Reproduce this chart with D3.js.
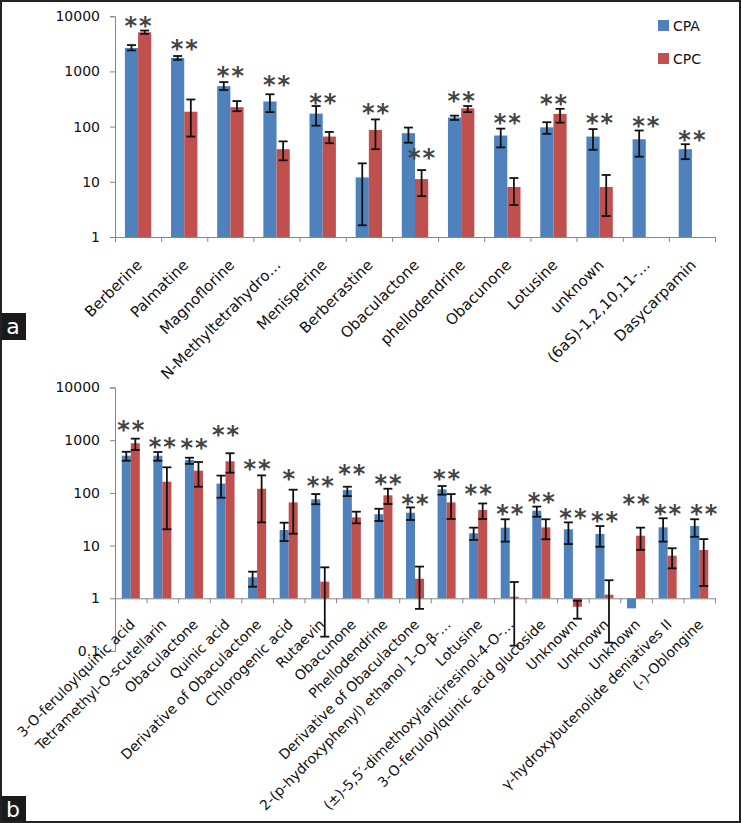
<!DOCTYPE html>
<html>
<head>
<meta charset="utf-8">
<script src="https://cdn.jsdelivr.net/npm/d3@7"></script>
<style>
  body { margin: 0; background: #fff; }
  svg { display: block; }
  text { font-family: "DejaVu Sans", sans-serif; }
</style>
</head>
<body>
<div id="chart"></div>
<script>
// ---- panel a data ----
var catsA = ["Berberine", "Palmatine", "Magnoflorine", "N-Methyltetrahydro…", "Menisperine",
  "Berberastine", "Obaculactone", "phellodendrine", "Obacunone", "Lotusine", "unknown",
  "(6aS)-1,2,10,11-…", "Dasycarpamin"];
var cpaA = [2650, 1750, 540, 285, 172, 12, 76, 146, 69, 97, 66, 59, 39];
var cpaErrA = [[2400, 3000], [1620, 1900], [460, 640], [183, 385], [104, 236], [1.63, 21.6],
  [51, 96], [132, 158], [42, 92], [74, 120], [38, 90], [28.5, 85], [25.7, 48]];
var cpcA = [5100, 186, 225, 39, 66, 87, 11.2, 214, 8.05, 170, 8.05, null, null];
var cpcErrA = [[4800, 5500], [66, 310], [190, 290], [24.5, 54], [50, 80], [39, 135],
  [5.5, 16.3], [183, 236], [3.8, 11.7], [118, 210], [2.4, 13.3], null, null];
var starsA = ["**", "**", "**", "**", "**", "**", "**", "**", "**", "**", "**", "**", "**"];
var starAtA = [8500, 3250, 1060, 720, 348, 225, 35, 373, 148, 334, 148, 132, 73.5];
var starOnA = ["both", "both", "both", "both", "both", "CPC", "CPC", "both", "both", "both", "both", "both", "both"];
var ticksA = [1, 10, 100, 1000, 10000];

// ---- panel b data ----
var catsB = ["3-O-feruloylquinic acid", "Tetramethyl-O-scutellarin", "Obaculactone", "Quinic acid",
  "Derivative of Obaculactone", "Chlorogenic acid", "Rutaevin", "Obacunone", "Phellodendrine",
  "Derivative of Obaculactone", "2-(p-hydroxyphenyl) ethanol 1-O-β-…", "Lotusine",
  "(±)-5,5′-dimethoxylariciresinol-4-O-…", "3-O-feruloylquinic acid glucoside", "Unknown",
  "Unknown", "Unknown", "γ-hydroxybutenolide deniatives  II", "(-)-Oblongine"];
var cpaB = [508, 508, 420, 150, 2.5, 19.8, 75.6, 113.5, 39.3, 42, 117, 17.1, 21.9, 46, 20.4, 16.6, 0.645, 22.2, 23.5];
var cpaErrB = [[408, 603], [408, 597], [355, 465], [81, 213], [1.66, 3.2], [12.2, 27.2], [61, 95],
  [87, 131], [29.3, 50], [30.6, 53], [92.5, 135], [12.8, 21.9], [11.9, 31.6], [35.3, 55],
  [10.7, 27.6], [9.5, 23.5], null, [11.9, 33], [14.7, 31.6]];
var cpcB = [875, 163, 264, 398, 120, 66, 2.07, 34.4, 90, 2.35, 66, 47.4, 1.07, 22.2, 0.69, 1.17, 15.4, 6.43, 8.26];
var cpcErrB = [[650, 1070], [20.4, 306], [131, 386], [242, 565], [27.6, 215], [16.8, 115],
  [0.187, 3.87], [26.5, 44], [61.6, 120], [0.63, 4.0], [32, 95], [32, 63], [0.126, 2.04],
  [13.2, 31.6], [0.41, 0.9], [0.144, 2.2], [8.3, 21.9], [3.7, 8.9], [1.71, 13.3]];
var starsB = ["**", "**", "**", "**", "**", "*", "**", "**", "**", "**", "**", "**", "**", "**", "**", "**", "**", "**", "**"];
var starAtB = [2000, 980, 940, 1630, 373, 235, 176, 300, 189, 81, 241, 122, 52.3, 87.6, 44, 38, 79, 51, 51];
var starOnB = ["both", "both", "both", "both", "both", "both", "both", "both", "CPC", "both",
  "both", "both", "both", "both", "both", "both", "both", "both", "CPC"];
var ticksB = [0.1, 1, 10, 100, 1000, 10000];

var series = ["CPA", "CPC"];

var width = 741, height = 823;
var BLUE = "#4f81bd", RED = "#c0504d", AXIS = "#868686";

var svg = d3.select("#chart").append("svg")
  .attr("width", width)
  .attr("height", height);

function drawPanel(p) {
  var g = svg.append("g");
  var n = p.cats.length;
  var x = d3.scaleBand().domain(d3.range(n)).range([115, 715]);
  var xs = d3.scaleBand().domain(series).range([0, x.bandwidth()])
    .paddingInner(0).paddingOuter(0.75);
  var xl = d3.scaleLinear().domain([0, n]).range([115, 715]);
  var y = d3.scaleLog().domain(p.domain).range(p.range);
  var y0 = y(1);

  // y axis
  var ya = g.append("g").attr("transform", "translate(115,0)")
    .call(d3.axisLeft(y).tickValues(p.ticks).tickFormat(d3.format("")).tickSizeOuter(0).tickSize(5).tickPadding(10));
  ya.select(".domain").attr("stroke", AXIS);
  ya.selectAll(".tick line").attr("stroke", AXIS);
  ya.selectAll(".tick text").attr("font-size", 14).attr("fill", "#111")
    .attr("font-family", "DejaVu Sans");

  // x axis (ticks between categories)
  var xa = g.append("g").attr("transform", "translate(0," + y0 + ")")
    .call(d3.axisBottom(xl).tickValues(d3.range(1, n + 1)).tickFormat("").tickSizeOuter(0).tickSize(5));
  xa.select(".domain").attr("stroke", AXIS);
  xa.selectAll(".tick line").attr("stroke", AXIS);

  var rows = d3.range(n).map(function(i) {
    return [
      { i: i, s: "CPA", v: p.cpa[i], e: p.cpaErr[i] },
      { i: i, s: "CPC", v: p.cpc[i], e: p.cpcErr[i] }
    ];
  });
  var flat = d3.merge(rows).filter(function(d) { return d.v != null; });

  g.selectAll(".bar").data(flat).enter().append("rect")
    .attr("class", "bar")
    .attr("x", function(d) { return x(d.i) + xs(d.s); })
    .attr("width", xs.bandwidth())
    .attr("y", function(d) { return Math.min(y(d.v), y0); })
    .attr("height", function(d) { return Math.abs(y0 - y(d.v)); })
    .attr("fill", function(d) { return d.s == "CPA" ? BLUE : RED; });

  // category labels (drawn before error bars so long whiskers sit on top)
  g.selectAll(".cat").data(p.cats).enter().append("text")
    .attr("class", "cat")
    .attr("text-anchor", "end")
    .attr("font-size", p.labelSize)
    .attr("fill", "#111")
    .attr("transform", function(d, i) {
      return "translate(" + (x(i) + x.bandwidth() / 2 + p.labelDx) + "," + (y0 + p.labelDy) + ") rotate(-45)";
    })
    .text(function(d) { return d; });

  // error bars
  var eb = g.selectAll(".err").data(flat.filter(function(d) { return d.e; })).enter()
    .append("g").attr("class", "err")
    .attr("stroke", "#111").attr("stroke-width", 1.8);
  var cx = function(d) { return x(d.i) + xs(d.s) + xs.bandwidth() / 2; };
  eb.append("line")
    .attr("x1", cx).attr("x2", cx)
    .attr("y1", function(d) { return y(d.e[0]); })
    .attr("y2", function(d) { return y(d.e[1]); });
  eb.append("line")
    .attr("x1", function(d) { return cx(d) - 4.5; }).attr("x2", function(d) { return cx(d) + 4.5; })
    .attr("y1", function(d) { return y(d.e[0]); }).attr("y2", function(d) { return y(d.e[0]); });
  eb.append("line")
    .attr("x1", function(d) { return cx(d) - 4.5; }).attr("x2", function(d) { return cx(d) + 4.5; })
    .attr("y1", function(d) { return y(d.e[1]); }).attr("y2", function(d) { return y(d.e[1]); });

  // significance stars
  g.selectAll(".star").data(p.stars).enter().append("text")
    .attr("class", "star")
    .attr("x", function(d, i) {
      var c = x(i) + x.bandwidth() / 2 + 1;
      return p.starOn[i] == "CPC" ? c + xs.bandwidth() / 2 : c;
    })
    .attr("y", function(d, i) { return y(p.starAt[i]) + 14; })
    .attr("text-anchor", "middle")
    .attr("font-size", 24)
    .attr("font-weight", "bold")
    .attr("letter-spacing", 2)
    .attr("fill", "#444")
    .text(function(d) { return d; });

  // panel tag
  g.append("rect").attr("x", 0).attr("y", p.tagY).attr("width", 26).attr("height", 27).attr("fill", "#1a1a1a");
  g.append("text").attr("x", 13).attr("y", p.tagY + 21).attr("text-anchor", "middle")
    .attr("font-family", "Liberation Sans").attr("font-size", 22).attr("fill", "#fff").text(p.tag);
}

drawPanel({
  cats: catsA, cpa: cpaA, cpaErr: cpaErrA, cpc: cpcA, cpcErr: cpcErrA,
  stars: starsA, starAt: starAtA, starOn: starOnA, ticks: ticksA,
  domain: [1, 10000], range: [237, 16.2], labelDx: 5, labelDy: 29, labelSize: 15, tag: "a", tagY: 313
});
drawPanel({
  cats: catsB, cpa: cpaB, cpaErr: cpaErrB, cpc: cpcB, cpcErr: cpcErrB,
  stars: starsB, starAt: starAtB, starOn: starOnB, ticks: ticksB,
  domain: [0.1, 10000], range: [651, 387.5], labelDx: 5, labelDy: 27, labelSize: 14, tag: "b", tagY: 796
});

// legend
var legend = svg.append("g").attr("transform", "translate(658,20)");
legend.selectAll("rect").data(series).enter().append("rect")
  .attr("x", 0).attr("y", function(d, i) { return i * 33; })
  .attr("width", 11).attr("height", 11)
  .attr("fill", function(d) { return d == "CPA" ? BLUE : RED; });
legend.selectAll("text").data(series).enter().append("text")
  .attr("x", 15).attr("y", function(d, i) { return i * 33 + 11; })
  .attr("font-size", 14).attr("fill", "#111")
  .text(function(d) { return d; });

// outer frame
svg.append("rect").attr("x", 1).attr("y", 1).attr("width", width - 2).attr("height", height - 2)
  .attr("fill", "none").attr("stroke", "#222").attr("stroke-width", 2);
</script>
</body>
</html>
